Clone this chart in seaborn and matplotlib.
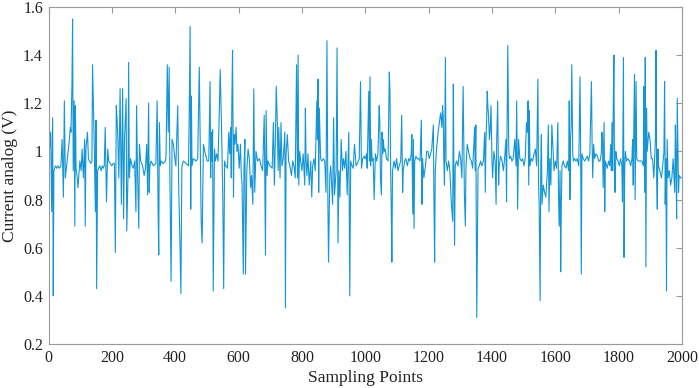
import matplotlib
matplotlib.use("Agg")
import matplotlib.pyplot as plt
import seaborn as sns
import pandas as pd
from matplotlib.ticker import FuncFormatter

# values, in blocks of roughly 250 samples
samples_a = [1, 7, 10, 13, 15, 17, 22, 26, 30, 34, 39, 43, 47, 50, 53, 57, 62, 66, 69, 71,
             74, 76, 78, 81, 83, 85, 87, 90, 93, 97, 99, 103, 106, 110, 114, 116, 118, 123,
             126, 129, 134, 137, 139, 144, 148, 150, 152, 155, 158, 162, 166, 170, 173, 176,
             179, 183, 187, 190, 195, 200, 204, 208, 211, 214, 217, 219, 222, 226, 230, 234,
             237, 240, 245, 247, 251]
volts_a = [0.97, 1.08, 0.75, 1.14, 0.40, 0.92, 0.94, 0.93, 0.94, 0.93, 0.94, 1.05, 0.81, 1.21,
           0.89, 0.94, 1.00, 1.05, 1.10, 1.08, 1.28, 1.55, 0.92, 1.21, 0.69, 1.19, 0.93, 0.90,
           0.85, 0.92, 0.96, 0.92, 1.01, 0.89, 1.05, 0.69, 1.01, 1.08, 0.97, 0.96, 0.95, 0.96,
           1.36, 1.05, 0.75, 1.13, 0.43, 0.92, 0.93, 0.94, 0.92, 0.94, 0.93, 0.94, 1.10, 0.79,
           1.01, 0.96, 0.95, 0.94, 0.95, 0.95, 0.58, 1.19, 1.12, 1.05, 0.89, 1.26, 0.78, 1.26,
           0.72, 1.05, 1.22, 0.67, 0.90]

samples_b = [253, 255, 259, 264, 268, 272, 276, 278, 281, 285, 287, 291, 297, 302, 306, 310,
             313, 316, 318, 320, 324, 331, 339, 343, 346, 348, 350, 353, 356, 362, 369, 371,
             375, 378, 381, 383, 387, 390, 394, 399, 402, 408, 411, 415, 418, 421, 426, 434,
             442, 444, 447, 449, 451, 453, 457, 466, 471, 476, 480, 482, 485, 489, 495, 499]
volts_b = [1.37, 0.89, 0.97, 0.94, 0.93, 0.96, 0.75, 1.19, 0.92, 0.68, 1.03, 0.96, 0.94, 0.90,
           0.93, 1.03, 0.82, 1.20, 0.83, 0.94, 0.96, 0.94, 0.95, 1.21, 0.75, 0.57, 1.12, 0.94,
           0.96, 0.95, 0.96, 0.98, 1.36, 1.08, 1.35, 0.92, 0.46, 1.05, 1.03, 0.97, 0.94, 1.19,
           0.85, 0.62, 0.41, 0.94, 0.96, 0.95, 0.94, 1.13, 1.52, 0.76, 1.23, 0.94, 0.97, 0.96,
           0.97, 1.35, 0.94, 0.71, 0.62, 1.03, 0.99, 0.97]

samples_c = [501, 506, 510, 512, 514, 516, 518, 520, 524, 527, 531, 535, 539, 542, 546, 550,
             553, 556, 560, 565, 569, 572, 575, 577, 579, 581, 584, 586, 589, 592, 595, 598,
             602, 606, 609, 611, 613, 615, 617, 620, 622, 626, 630, 634, 638, 641, 645, 648,
             651, 655, 660, 666, 671, 676, 681, 685, 687, 690, 693, 699, 706, 710, 713, 716,
             719, 722, 725, 727, 731, 734, 737, 741, 746, 748, 750, 754]
volts_c = [0.96, 0.96, 1.29, 0.89, 1.08, 0.96, 1.09, 0.42, 1.01, 0.96, 0.99, 0.96, 1.15, 1.34,
           1.12, 0.83, 0.43, 0.96, 0.94, 0.93, 1.08, 0.99, 1.10, 0.89, 1.23, 1.42, 0.81, 1.07,
           1.03, 1.10, 1.00, 1.03, 0.93, 1.03, 0.89, 0.87, 0.67, 0.49, 0.92, 1.05, 0.49, 0.92,
           1.01, 0.97, 0.85, 0.90, 0.78, 1.26, 0.83, 1.00, 0.96, 0.97, 0.94, 0.92, 1.15, 0.57,
           1.17, 0.90, 0.96, 0.94, 0.93, 1.12, 0.86, 1.03, 1.27, 1.14, 0.92, 1.10, 0.89, 1.12,
           0.94, 0.97, 1.08, 0.35, 0.99, 1.07]

samples_d = [758, 762, 767, 771, 775, 779, 783, 786, 788, 790, 793, 796, 800, 804, 809, 811,
             813, 816, 819, 823, 828, 831, 834, 838, 842, 847, 849, 851, 853, 855, 859, 863,
             868, 872, 876, 879, 882, 884, 888, 891, 895, 897, 900, 903, 908, 911, 914, 917,
             920, 924, 928, 931, 935, 939, 943, 948, 951, 954, 958, 962, 966, 971, 975, 981,
             985, 988, 992, 996, 1000, 1004]
volts_d = [0.96, 0.94, 0.90, 0.96, 0.94, 0.89, 1.36, 0.89, 1.40, 0.86, 1.00, 0.96, 0.92, 0.99,
           0.86, 1.18, 0.97, 0.90, 0.99, 0.86, 0.96, 0.81, 0.94, 0.97, 0.92, 1.21, 1.05, 1.30,
           0.83, 1.18, 0.97, 0.96, 0.97, 0.96, 0.83, 1.46, 0.79, 0.54, 0.90, 0.94, 0.83, 0.78,
           1.14, 0.82, 0.92, 1.43, 0.62, 0.92, 0.81, 1.05, 0.92, 0.97, 0.93, 1.00, 0.82, 1.08,
           0.40, 0.96, 0.94, 0.93, 1.03, 0.94, 0.95, 0.97, 1.29, 0.93, 0.97, 0.98, 0.97, 0.99]

samples_e = [1006, 1011, 1013, 1015, 1017, 1019, 1022, 1025, 1028, 1032, 1036, 1040, 1044,
             1046, 1048, 1051, 1053, 1055, 1057, 1060, 1063, 1067, 1072, 1076, 1078, 1080,
             1082, 1084, 1086, 1091, 1095, 1099, 1103, 1107, 1112, 1115, 1118, 1120, 1124,
             1128, 1133, 1137, 1141, 1145, 1147, 1150, 1152, 1154, 1156, 1160, 1164, 1168,
             1173, 1177, 1179, 1181, 1185, 1190, 1194, 1198, 1202, 1206, 1210, 1215, 1217,
             1219, 1221, 1225, 1230, 1234, 1238, 1242, 1244, 1246, 1248, 1250, 1253, 1255, 1259]
volts_e = [0.93, 1.25, 0.96, 1.31, 0.94, 1.05, 0.96, 0.97, 0.80, 0.99, 0.96, 0.99, 1.19, 1.12,
           0.89, 0.82, 1.08, 0.99, 1.05, 1.00, 1.01, 0.97, 0.96, 1.33, 1.25, 0.94, 0.76, 0.54,
           0.92, 0.96, 0.93, 0.97, 0.92, 0.94, 0.96, 1.15, 0.83, 0.92, 0.96, 0.97, 0.94, 0.97,
           0.96, 0.99, 1.07, 0.74, 1.05, 0.68, 0.96, 0.98, 0.97, 0.97, 0.96, 1.13, 0.78, 0.97,
           0.89, 0.94, 1.00, 1.00, 0.97, 0.99, 1.01, 1.11, 0.78, 0.54, 0.92, 1.01, 1.08, 1.12,
           1.16, 1.10, 1.19, 1.15, 0.97, 0.86, 1.39, 0.96, 0.92]

samples_f = [1263, 1267, 1272, 1276, 1278, 1280, 1282, 1284, 1288, 1293, 1297, 1301, 1305,
             1309, 1313, 1316, 1318, 1322, 1326, 1331, 1335, 1339, 1343, 1345, 1347, 1349,
             1352, 1354, 1356, 1360, 1364, 1368, 1373, 1377, 1379, 1381, 1383, 1385, 1387,
             1389, 1392, 1394, 1397, 1400, 1402, 1406, 1410, 1413, 1415, 1418, 1421, 1423,
             1427, 1432, 1436, 1440, 1444, 1446, 1448, 1450, 1453, 1455, 1459, 1463, 1467,
             1472, 1476, 1478, 1481, 1484, 1488, 1493, 1497, 1501, 1505, 1509]
volts_f = [0.96, 0.92, 0.78, 0.71, 1.28, 0.89, 0.61, 0.94, 0.96, 0.94, 1.00, 0.97, 0.89, 1.27,
           0.82, 0.69, 0.94, 1.03, 1.00, 0.97, 0.96, 0.93, 1.03, 1.10, 0.92, 1.11, 0.31, 0.64,
           0.93, 0.94, 0.96, 0.94, 0.96, 1.08, 0.83, 1.05, 1.12, 1.25, 1.19, 1.15, 1.05, 1.08,
           1.19, 0.96, 0.89, 1.00, 0.96, 0.78, 1.05, 1.21, 0.86, 0.94, 0.98, 0.96, 0.92, 0.97,
           1.05, 0.79, 1.15, 1.44, 1.01, 0.97, 0.98, 0.96, 0.97, 1.05, 0.94, 1.21, 0.76, 1.05,
           0.97, 0.96, 0.97, 0.94, 0.97, 1.12]

samples_g = [1512, 1514, 1516, 1518, 1520, 1524, 1528, 1533, 1537, 1541, 1545, 1547, 1549,
             1552, 1554, 1556, 1558, 1562, 1566, 1570, 1575, 1578, 1580, 1583, 1586, 1589,
             1592, 1596, 1600, 1604, 1608, 1610, 1612, 1615, 1617, 1619, 1621, 1625, 1629,
             1634, 1638, 1642, 1644, 1646, 1648, 1650, 1652, 1655, 1657, 1661, 1665, 1669,
             1674, 1678, 1680, 1682, 1684, 1688, 1693, 1697, 1701, 1705, 1709, 1714, 1716,
             1718, 1721, 1724, 1728, 1733, 1737, 1741, 1745, 1747, 1749, 1751, 1754, 1756,
             1758, 1762]
volts_g = [1.08, 1.21, 0.86, 1.17, 0.94, 0.97, 0.96, 0.99, 1.01, 0.94, 1.30, 0.87, 0.78, 0.38,
           0.94, 1.07, 0.78, 0.86, 0.83, 0.81, 0.92, 1.11, 0.75, 0.97, 0.86, 1.11, 1.03, 0.92,
           0.96, 0.93, 1.12, 0.83, 0.69, 0.92, 0.50, 0.78, 0.94, 0.96, 0.94, 0.93, 0.96, 0.92,
           1.21, 0.80, 1.05, 1.11, 1.36, 0.99, 0.96, 0.97, 0.96, 0.97, 0.94, 1.31, 1.00, 0.49,
           0.99, 0.97, 0.96, 0.97, 0.98, 0.96, 0.99, 1.29, 1.05, 0.89, 1.03, 0.97, 0.99, 0.98,
           0.96, 0.96, 0.99, 1.08, 1.05, 0.85, 1.12, 0.75, 0.96, 0.94]

samples_h = [1764, 1768, 1772, 1775, 1777, 1779, 1781, 1783, 1785, 1787, 1789, 1791, 1794,
             1798, 1802, 1806, 1810, 1812, 1815, 1817, 1819, 1821, 1825, 1829, 1834, 1838,
             1842, 1844, 1846, 1848, 1850, 1852, 1855, 1857, 1861, 1865, 1869, 1873, 1878,
             1880, 1882, 1884, 1886, 1888, 1890, 1895, 1899, 1903, 1907, 1911, 1916, 1918,
             1920, 1922, 1924, 1926, 1930, 1935, 1939, 1943, 1945, 1947, 1949, 1951, 1953,
             1956, 1960, 1964, 1968, 1972, 1977, 1979, 1981, 1983, 1985, 1987, 1989, 1991,
             1996, 2000]
volts_h = [0.93, 0.96, 0.94, 1.03, 0.92, 1.12, 0.92, 1.19, 1.40, 0.86, 0.83, 1.00, 0.97, 0.96,
           0.94, 0.97, 0.94, 0.79, 1.39, 0.56, 0.92, 1.00, 0.96, 0.97, 0.96, 0.94, 0.97, 1.05,
           0.86, 1.12, 1.32, 0.80, 1.29, 0.97, 0.96, 0.96, 0.96, 0.96, 0.94, 1.27, 0.83, 1.39,
           0.52, 1.18, 1.00, 1.08, 1.05, 0.97, 0.97, 0.89, 1.05, 1.42, 0.87, 0.76, 1.01, 0.94,
           0.92, 0.89, 0.94, 1.00, 1.29, 0.78, 0.97, 0.42, 1.05, 0.89, 0.92, 0.86, 0.89, 0.97,
           0.83, 1.11, 0.96, 0.72, 1.22, 1.03, 0.83, 0.90, 0.89, 0.89]

x_ticks = [0, 200, 400, 600, 800, 1000, 1200, 1400, 1600, 1800, 2000]
y_ticks = [0.2, 0.4, 0.6, 0.8, 1.0, 1.2, 1.4, 1.6]


def main() -> None:
    samples = (samples_a + samples_b + samples_c + samples_d
               + samples_e + samples_f + samples_g + samples_h)
    volts = volts_a + volts_b + volts_c + volts_d + volts_e + volts_f + volts_g + volts_h
    df = pd.DataFrame({"sample": samples, "volt": volts})

    sns.set_style("white")
    plt.rcParams["font.family"] = ["Liberation Serif", "DejaVu Serif"]

    fig = plt.figure(figsize=(6.99, 3.88), dpi=100)
    ax = fig.add_axes([0.0694, 0.1134, 0.9063, 0.8686])

    sns.lineplot(data=df, x="sample", y="volt", ax=ax, color="#1496D6",
                 linewidth=0.8, estimator=None, sort=False)

    ax.set_xlim(0, 2000)
    ax.set_ylim(0.2, 1.6)
    ax.set_xticks(x_ticks)
    ax.set_yticks(y_ticks)
    ax.yaxis.set_major_formatter(FuncFormatter(lambda v, _: f"{v:g}"))

    for side in ["top", "right", "bottom", "left"]:
        ax.spines[side].set_visible(True)
        ax.spines[side].set_color("#9a9a9a")
        ax.spines[side].set_linewidth(0.8)
    ax.tick_params(direction="in", length=4, width=0.8, color="#9a9a9a",
                   top=True, right=True, labelsize=11.5, labelcolor="#222222", pad=4)

    ax.set_xlabel("Sampling Points", fontsize=12.5, color="#222222", labelpad=3)
    ax.set_ylabel("Current analog (V)", fontsize=12.5, color="#222222", labelpad=4)

    fig.savefig("out.png", dpi=100)
    plt.close(fig)


if __name__ == "__main__":
    main()
